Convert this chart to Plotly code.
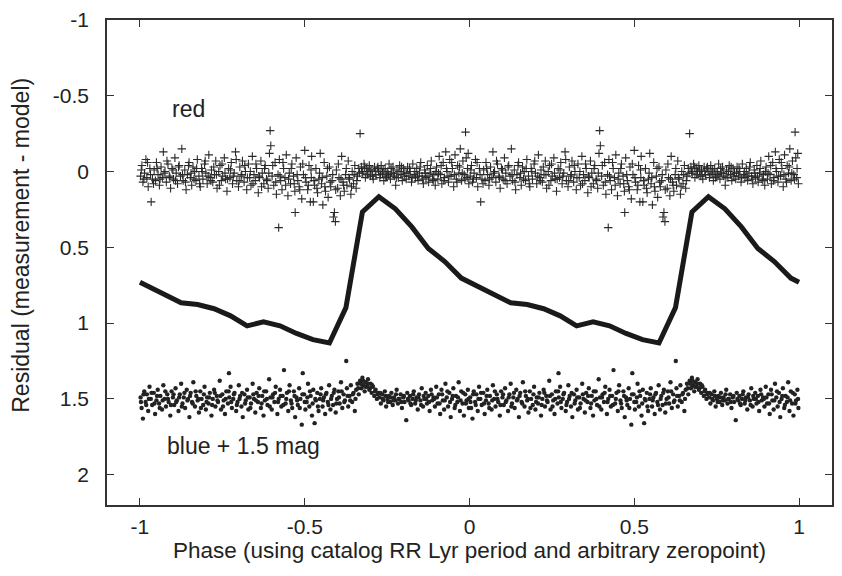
import plotly.graph_objects as go

# Light-curve model (one period, phase -1..0), magnitudes
lc_phase = [-1.0, -0.975, -0.925, -0.875, -0.825, -0.775, -0.725, -0.675, -0.625, -0.575,
            -0.525, -0.475, -0.425, -0.375, -0.325, -0.275, -0.225, -0.175, -0.125, -0.075, -0.025]
lc_mag = [0.73, 0.757, 0.81, 0.866, 0.877, 0.905, 0.952, 1.018, 0.992, 1.018,
          1.068, 1.109, 1.131, 0.898, 0.267, 0.166, 0.246, 0.365, 0.507, 0.594, 0.703]
lc_end = (1.0, 0.73)

# Red residuals (phase, residual), one period
red_obs = [
(-0.998,0.03),(-0.994,-0.04),(-0.991,0.07),(-0.986,0.01),(-0.982,-0.08),(-0.979,0.04),(-0.975,0.10),(-0.970,-0.02),(-0.966,0.20),(-0.962,0.05),
(-0.957,-0.01),(-0.953,0.06),(-0.950,-0.06),(-0.945,0.02),(-0.941,0.09),(-0.936,-0.03),(-0.932,0.04),(-0.929,-0.13),(-0.924,0.00),(-0.920,0.07),
(-0.915,-0.05),(-0.911,0.03),(-0.907,0.11),(-0.903,-0.02),(-0.898,0.05),(-0.894,-0.09),(-0.890,0.01),(-0.886,0.08),(-0.881,-0.04),(-0.877,0.03),
(-0.873,-0.15),(-0.869,0.06),(-0.864,-0.01),(-0.860,0.12),(-0.856,0.02),(-0.851,-0.06),(-0.847,0.04),(-0.843,0.09),(-0.839,-0.03),(-0.834,0.00),
(-0.830,0.06),(-0.826,-0.08),(-0.821,0.03),(-0.817,0.10),(-0.813,-0.02),(-0.809,0.05),(-0.804,-0.05),(-0.800,0.01),(-0.796,0.08),(-0.791,-0.11),
(-0.787,0.04),(-0.783,-0.01),(-0.779,0.07),(-0.774,0.02),(-0.770,-0.07),(-0.766,0.11),(-0.761,0.00),(-0.757,-0.04),(-0.753,0.06),(-0.749,0.03),
(-0.744,-0.09),(-0.740,0.05),(-0.736,0.13),(-0.731,-0.02),(-0.727,0.04),(-0.723,-0.06),(-0.719,0.08),(-0.714,0.01),(-0.710,-0.13),(-0.706,0.06),
(-0.701,0.10),(-0.697,-0.03),(-0.693,0.03),(-0.689,-0.07),(-0.684,0.07),(-0.680,0.00),(-0.676,0.12),(-0.671,-0.05),(-0.667,0.04),(-0.663,0.09),
(-0.659,-0.10),(-0.654,0.02),(-0.650,0.06),(-0.646,-0.02),(-0.641,0.14),(-0.637,0.04),(-0.633,-0.07),(-0.629,0.01),(-0.624,0.08),(-0.620,-0.04),
(-0.616,0.05),(-0.611,0.11),(-0.607,-0.12),(-0.605,-0.27),(-0.603,-0.17),(-0.599,0.03),(-0.594,0.09),(-0.590,-0.06),(-0.586,0.15),(-0.581,0.02),(-0.579,0.37),
(-0.577,-0.08),(-0.573,0.06),(-0.569,0.12),(-0.564,-0.02),(-0.560,0.04),(-0.556,-0.11),(-0.551,0.16),(-0.547,0.01),(-0.543,0.08),(-0.539,-0.05),
(-0.534,0.03),(-0.530,0.13),(-0.529,0.27),(-0.526,-0.09),(-0.521,0.06),(-0.517,0.10),(-0.513,-0.03),(-0.509,0.18),(-0.504,0.02),(-0.500,-0.14),
(-0.496,0.07),(-0.491,0.12),(-0.487,-0.04),(-0.483,0.20),(-0.480,0.04),(-0.479,-0.10),(-0.474,0.20),(-0.470,0.09),(-0.466,-0.02),(-0.461,0.14),(-0.457,0.05),(-0.453,-0.12),
(-0.449,0.08),(-0.445,0.22),(-0.441,-0.06),(-0.437,0.13),(-0.433,0.03),(-0.429,0.17),(-0.425,-0.03),(-0.421,0.10),(-0.417,0.06),(-0.413,0.30),
(-0.410,0.27),(-0.407,0.33),(-0.404,-0.01),(-0.400,0.11),(-0.396,0.04),(-0.392,0.16),(-0.388,-0.10),(-0.384,0.07),(-0.380,0.13),(-0.376,0.02),
(-0.372,0.09),(-0.368,-0.07),(-0.364,0.05),(-0.360,0.15),(-0.356,0.00),(-0.352,0.08),(-0.348,-0.04),(-0.344,0.11),(-0.340,0.03),(-0.336,-0.02),(-0.332,-0.25),
(-0.328,-0.03),(-0.324,0.01),(-0.320,-0.05),(-0.316,0.04),(-0.312,-0.02),(-0.308,0.00),(-0.304,-0.04),(-0.300,0.03),(-0.296,-0.01),(-0.292,0.05),
(-0.288,-0.03),(-0.284,0.02),(-0.280,-0.02),(-0.276,0.00),(-0.272,0.04),(-0.268,-0.04),(-0.264,0.01),(-0.260,0.06),(-0.256,-0.02),(-0.252,0.03),
(-0.248,0.00),(-0.244,-0.05),(-0.240,0.05),(-0.236,0.01),(-0.232,-0.03),(-0.228,0.03),(-0.224,0.09),(-0.220,-0.01),(-0.216,0.04),(-0.212,-0.04),
(-0.208,0.02),(-0.204,0.06),(-0.200,-0.02),(-0.196,0.01),(-0.192,0.05),(-0.188,-0.03),(-0.184,0.03),(-0.180,0.00),(-0.176,0.07),(-0.172,-0.05),
(-0.168,0.02),(-0.164,0.04),(-0.160,-0.02),(-0.156,0.06),(-0.152,0.01),(-0.148,-0.06),(-0.144,0.03),(-0.140,0.08),(-0.136,-0.01),(-0.132,0.04),
(-0.128,-0.04),(-0.124,0.07),(-0.120,0.01),(-0.116,-0.07),(-0.112,0.05),(-0.108,0.02),(-0.104,0.09),
(-0.100,-0.03),(-0.096,0.05),(-0.092,-0.10),(-0.088,0.02),(-0.084,0.08),(-0.080,-0.06),(-0.076,0.04),(-0.072,-0.13),(-0.068,0.00),(-0.064,0.07),
(-0.060,-0.08),(-0.056,0.03),(-0.052,-0.02),(-0.048,0.10),(-0.044,-0.11),(-0.040,0.05),(-0.036,-0.04),(-0.032,0.01),(-0.028,-0.15),(-0.024,0.06),
(-0.020,-0.07),(-0.016,0.02),(-0.012,-0.26),(-0.010,-0.09),(-0.007,0.04),(-0.004,-0.12),(-0.002,0.08),
]

# Additional red points in the dense core of the band
red_obs_core = [
(-0.996,-0.01),(-0.988,0.05),(-0.977,-0.06),(-0.968,0.02),(-0.959,0.08),(-0.948,-0.02),(-0.939,0.05),(-0.927,0.01),(-0.918,-0.07),(-0.909,0.04),
(-0.900,-0.01),(-0.892,0.06),(-0.883,-0.03),(-0.871,0.02),(-0.862,0.07),(-0.853,-0.04),(-0.845,0.01),(-0.836,0.05),(-0.828,-0.02),(-0.819,0.08),
(-0.811,0.00),(-0.802,-0.07),(-0.793,0.03),(-0.785,0.06),(-0.776,-0.03),(-0.768,0.02),(-0.759,0.09),(-0.751,-0.05),(-0.742,0.01),(-0.734,0.05),
(-0.725,-0.01),(-0.717,0.03),(-0.708,-0.08),(-0.699,0.06),(-0.691,0.02),(-0.682,-0.04),(-0.674,0.04),(-0.665,0.00),(-0.657,0.08),(-0.648,-0.05),
(-0.639,0.03),(-0.631,0.10),(-0.622,-0.02),(-0.614,0.06),(-0.609,0.01),(-0.597,-0.04),(-0.588,0.07),(-0.575,0.03),(-0.566,-0.06),(-0.558,0.09),
(-0.549,0.05),(-0.541,-0.02),(-0.532,0.08),(-0.523,0.02),(-0.515,0.12),(-0.506,-0.05),(-0.498,0.04),(-0.489,0.09),(-0.481,-0.01),(-0.472,0.06),
(-0.463,0.11),(-0.455,0.01),
(-0.447,0.04),(-0.439,0.10),(-0.431,-0.02),(-0.423,0.07),(-0.415,0.02),(-0.406,0.12),(-0.398,-0.05),(-0.390,0.05),(-0.382,0.09),(-0.374,-0.02),
(-0.366,0.04),(-0.358,0.10),(-0.350,0.02),(-0.342,0.06),(-0.334,0.01),
(-0.326,0.00),(-0.318,-0.03),(-0.310,0.02),(-0.302,-0.01),(-0.294,0.03),(-0.286,0.00),(-0.278,-0.03),(-0.270,0.02),(-0.262,-0.01),(-0.254,0.04),
(-0.246,0.02),(-0.238,-0.02),(-0.230,0.01),(-0.222,0.04),(-0.214,0.00),(-0.206,-0.03),(-0.198,0.03),(-0.190,0.01),(-0.182,-0.02),(-0.174,0.04),
(-0.166,0.00),(-0.158,0.03),(-0.150,-0.03),(-0.142,0.05),(-0.134,0.01),(-0.126,0.03),(-0.118,-0.02),(-0.110,0.06),(-0.102,0.00),
(-0.094,0.01),(-0.086,-0.04),(-0.078,0.06),(-0.070,-0.02),(-0.062,0.03),(-0.054,-0.06),(-0.046,0.02),(-0.038,0.07),(-0.030,-0.03),(-0.022,0.01),
(-0.014,0.05),(-0.006,-0.02),
]

# Blue residuals + 1.5 mag (phase, value), one period
blue_obs = [
(-0.998,1.49),(-0.995,1.56),(-0.991,1.63),(-0.987,1.45),(-0.983,1.52),(-0.979,1.47),(-0.975,1.58),(-0.971,1.42),(-0.967,1.50),(-0.963,1.54),
(-0.958,1.46),(-0.954,1.60),(-0.950,1.51),(-0.946,1.44),(-0.942,1.53),(-0.938,1.48),(-0.933,1.57),(-0.929,1.41),(-0.925,1.50),(-0.921,1.55),
(-0.917,1.47),(-0.913,1.52),(-0.908,1.61),(-0.904,1.45),(-0.900,1.49),(-0.896,1.54),(-0.892,1.43),(-0.888,1.51),(-0.883,1.58),(-0.879,1.47),
(-0.875,1.40),(-0.871,1.53),(-0.867,1.49),(-0.863,1.56),(-0.858,1.44),(-0.854,1.50),(-0.850,1.62),(-0.846,1.46),(-0.842,1.52),(-0.838,1.39),
(-0.833,1.55),(-0.829,1.48),(-0.825,1.51),(-0.821,1.59),(-0.817,1.45),(-0.813,1.50),(-0.808,1.54),(-0.804,1.42),(-0.800,1.57),(-0.796,1.49),
(-0.792,1.53),(-0.788,1.46),(-0.783,1.61),(-0.779,1.50),(-0.775,1.44),(-0.771,1.55),(-0.767,1.48),(-0.763,1.52),(-0.758,1.38),(-0.754,1.57),
(-0.750,1.47),(-0.746,1.51),(-0.742,1.60),(-0.738,1.45),(-0.733,1.53),(-0.730,1.33),(-0.729,1.49),(-0.725,1.42),(-0.721,1.56),(-0.717,1.50),(-0.713,1.46),
(-0.708,1.58),(-0.704,1.52),(-0.700,1.41),(-0.696,1.48),(-0.692,1.55),(-0.688,1.62),(-0.683,1.47),(-0.679,1.51),(-0.675,1.44),(-0.671,1.57),
(-0.667,1.49),(-0.663,1.53),(-0.658,1.40),(-0.654,1.50),(-0.650,1.59),(-0.646,1.46),(-0.642,1.52),(-0.638,1.43),(-0.633,1.56),(-0.629,1.48),
(-0.625,1.61),(-0.621,1.51),(-0.617,1.45),(-0.613,1.54),(-0.608,1.37),(-0.604,1.49),(-0.600,1.57),(-0.596,1.47),(-0.592,1.52),(-0.588,1.42),
(-0.583,1.60),(-0.579,1.50),(-0.575,1.44),(-0.571,1.55),(-0.567,1.48),(-0.563,1.31),(-0.558,1.53),(-0.554,1.46),(-0.550,1.58),(-0.546,1.41),
(-0.542,1.51),(-0.538,1.56),(-0.533,1.45),(-0.529,1.62),(-0.525,1.49),(-0.521,1.54),(-0.517,1.43),(-0.513,1.50),(-0.509,1.67),(-0.506,1.33),
(-0.502,1.47),(-0.498,1.57),(-0.494,1.52),(-0.490,1.40),(-0.486,1.55),(-0.482,1.48),(-0.478,1.61),(-0.474,1.44),(-0.470,1.66),(-0.466,1.51),
(-0.462,1.46),(-0.458,1.58),(-0.454,1.50),
(-0.450,1.43),(-0.446,1.55),(-0.442,1.49),(-0.438,1.60),(-0.434,1.46),(-0.430,1.52),(-0.426,1.41),(-0.422,1.57),(-0.418,1.48),(-0.414,1.54),
(-0.410,1.44),(-0.406,1.59),(-0.402,1.50),(-0.398,1.45),(-0.394,1.53),(-0.390,1.39),(-0.386,1.56),(-0.382,1.47),(-0.378,1.51),(-0.374,1.25),
(-0.372,1.43),(-0.368,1.55),(-0.364,1.48),(-0.360,1.41),(-0.356,1.52),(-0.352,1.46),(-0.348,1.58),(-0.344,1.44),
(-0.340,1.40),(-0.336,1.47),(-0.332,1.38),(-0.328,1.43),(-0.325,1.36),(-0.322,1.41),(-0.318,1.45),(-0.315,1.39),(-0.311,1.42),(-0.308,1.37),
(-0.304,1.44),(-0.300,1.40),(-0.297,1.46),(-0.293,1.42),(-0.289,1.48),(-0.285,1.44),(-0.281,1.50),(-0.277,1.46),
(-0.273,1.49),(-0.269,1.53),(-0.265,1.47),(-0.261,1.51),(-0.257,1.45),(-0.253,1.55),(-0.249,1.50),(-0.245,1.48),(-0.241,1.52),(-0.237,1.46),
(-0.233,1.54),(-0.229,1.49),(-0.225,1.51),(-0.221,1.44),(-0.217,1.53),(-0.213,1.50),(-0.209,1.47),(-0.205,1.56),(-0.201,1.49),(-0.197,1.52),
(-0.192,1.64),(-0.189,1.46),(-0.185,1.51),(-0.181,1.48),(-0.177,1.54),(-0.173,1.50),(-0.169,1.45),(-0.165,1.53),(-0.161,1.49),(-0.157,1.57),
(-0.153,1.47),(-0.149,1.51),(-0.145,1.43),(-0.141,1.55),(-0.137,1.50),(-0.133,1.46),(-0.129,1.53),(-0.125,1.48),(-0.121,1.58),(-0.117,1.44),
(-0.113,1.51),(-0.109,1.49),(-0.105,1.55),
(-0.101,1.42),(-0.097,1.53),(-0.093,1.47),(-0.089,1.60),(-0.085,1.44),(-0.081,1.51),(-0.077,1.57),(-0.073,1.40),(-0.069,1.49),(-0.065,1.55),
(-0.061,1.46),(-0.057,1.62),(-0.053,1.50),(-0.049,1.43),(-0.045,1.56),(-0.041,1.48),(-0.037,1.52),(-0.033,1.39),(-0.029,1.58),(-0.025,1.45),
(-0.021,1.53),(-0.017,1.61),(-0.013,1.47),(-0.009,1.51),(-0.005,1.44),(-0.002,1.56),
]

# Additional blue points in the dense core of the band
blue_obs_core = [
(-0.997,1.52),(-0.989,1.47),(-0.981,1.54),(-0.973,1.50),(-0.965,1.46),(-0.956,1.53),(-0.948,1.48),(-0.940,1.56),(-0.931,1.51),(-0.923,1.45),
(-0.915,1.50),(-0.906,1.54),(-0.898,1.47),(-0.890,1.52),(-0.881,1.49),(-0.873,1.55),(-0.865,1.46),(-0.856,1.51),(-0.848,1.48),(-0.840,1.53),
(-0.831,1.45),(-0.823,1.50),(-0.815,1.56),(-0.806,1.47),(-0.798,1.52),(-0.790,1.49),(-0.781,1.54),(-0.773,1.46),(-0.765,1.51),(-0.756,1.48),
(-0.748,1.55),(-0.740,1.50),(-0.731,1.45),(-0.723,1.52),(-0.715,1.47),(-0.706,1.54),(-0.698,1.50),(-0.690,1.46),(-0.681,1.53),(-0.673,1.49),
(-0.665,1.56),(-0.656,1.47),(-0.648,1.51),(-0.640,1.48),(-0.631,1.53),(-0.623,1.45),(-0.615,1.50),(-0.606,1.55),(-0.598,1.49),(-0.590,1.46),
(-0.581,1.52),(-0.573,1.48),(-0.565,1.54),(-0.556,1.50),(-0.548,1.45),(-0.540,1.53),(-0.531,1.48),(-0.523,1.51),(-0.515,1.56),(-0.507,1.47),
(-0.500,1.52),(-0.492,1.49),(-0.484,1.45),(-0.476,1.53),(-0.468,1.50),(-0.460,1.55),(-0.452,1.47),
(-0.444,1.51),(-0.436,1.47),(-0.428,1.54),(-0.420,1.50),(-0.412,1.46),(-0.404,1.53),(-0.396,1.49),(-0.388,1.45),(-0.380,1.52),(-0.370,1.48),
(-0.362,1.51),(-0.354,1.47),(-0.346,1.50),
(-0.338,1.43),(-0.330,1.40),(-0.323,1.38),(-0.316,1.42),(-0.309,1.40),(-0.302,1.43),(-0.295,1.41),(-0.287,1.45),(-0.279,1.47),(-0.271,1.46),
(-0.263,1.50),(-0.255,1.48),(-0.247,1.52),(-0.239,1.49),(-0.231,1.51),(-0.223,1.47),(-0.215,1.50),(-0.207,1.52),(-0.199,1.48),(-0.187,1.50),
(-0.179,1.53),(-0.171,1.47),(-0.163,1.51),(-0.155,1.49),(-0.147,1.54),(-0.139,1.48),(-0.131,1.50),(-0.123,1.52),(-0.115,1.47),(-0.107,1.50),
(-0.099,1.49),(-0.091,1.53),(-0.083,1.47),(-0.075,1.51),(-0.067,1.45),(-0.059,1.52),(-0.051,1.48),(-0.043,1.54),(-0.035,1.49),(-0.027,1.51),
(-0.019,1.46),(-0.011,1.53),(-0.003,1.50),
]

x_ticks = [-1, -0.5, 0, 0.5, 1]
x_ticktext = ["-1", "-0.5", "0", "0.5", "1"]
y_ticks = [-1, -0.5, 0, 0.5, 1, 1.5, 2]
y_ticktext = ["-1", "-0.5", "0", "0.5", "1", "1.5", "2"]

# Phase-folded data are shown over two cycles (phase and phase + 1)
def two_cycles(obs):
    xs = [p for p, _ in obs] + [p + 1 for p, _ in obs]
    ys = [v for _, v in obs] * 2
    return xs, ys

red_x, red_y = two_cycles(red_obs + red_obs_core)
blue_x, blue_y = two_cycles(blue_obs + blue_obs_core)
lc_x = lc_phase + [p + 1 for p in lc_phase] + [lc_end[0]]
lc_y = lc_mag + lc_mag + [lc_end[1]]

ink = "#222222"
font = "Liberation Sans, Arial, Helvetica, sans-serif"

fig = go.Figure()
fig.add_trace(go.Scatter(x=red_x, y=red_y, mode="markers",
                         marker=dict(symbol="cross-thin", size=6, line=dict(width=1.1, color="#2a2a2a")),
                         hoverinfo="skip"))
fig.add_trace(go.Scatter(x=blue_x, y=blue_y, mode="markers",
                         marker=dict(symbol="circle", size=4.4, color=ink, line=dict(width=0)),
                         hoverinfo="skip"))
fig.add_trace(go.Scatter(x=lc_x, y=lc_y, mode="lines",
                         line=dict(color="#1a1a1a", width=5), hoverinfo="skip"))

fig.add_annotation(x=-0.91, y=-0.41, text="red", showarrow=False, xanchor="left",
                   yanchor="middle", font=dict(size=23, color=ink, family=font))
fig.add_annotation(x=-0.925, y=1.81, text="blue + 1.5 mag", showarrow=False, xanchor="left",
                   yanchor="middle", font=dict(size=23, color=ink, family=font))
# y-axis title
fig.add_annotation(xref="paper", yref="paper", x=-0.1197, y=0.535,
                   text="Residual (measurement - model)", textangle=-90, showarrow=False,
                   xanchor="center", yanchor="middle",
                   font=dict(size=23, color=ink, family=font))

axis_common = dict(showline=True, mirror="ticks", linecolor="#333333", linewidth=1.5,
                   ticks="inside", ticklen=7, tickwidth=1.2, tickcolor="#333333",
                   showgrid=False, zeroline=False,
                   tickfont=dict(size=21, color=ink, family=font))

fig.update_xaxes(range=[-1.1, 1.1], tickvals=x_ticks, ticktext=x_ticktext,
                 title=dict(text="Phase (using catalog RR Lyr period and arbitrary zeropoint)",
                            font=dict(size=22.5, color=ink, family=font), standoff=5),
                 ticklabelstandoff=2, **axis_common)
fig.update_yaxes(range=[2.2, -1], tickvals=y_ticks, ticktext=y_ticktext,
                 ticklabelstandoff=12, **axis_common)

fig.update_layout(width=842, height=576, showlegend=False,
                  margin=dict(l=107, r=8, t=14, b=71),
                  paper_bgcolor="white", plot_bgcolor="white")

fig.write_html("out.html", config={"displayModeBar": False},
               post_script="document.body.style.margin='0';")
